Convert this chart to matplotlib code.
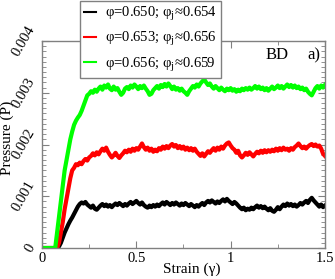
import numpy as np
import matplotlib
matplotlib.use("Agg")
import matplotlib.pyplot as plt
from matplotlib.ticker import MultipleLocator

# strain grid, 0.00 .. 1.50 in steps of 0.01
strain = np.round(np.arange(0, 151) * 0.01, 2)

# pressure values, in units of 1e-4
p_black = [
    0, 0, 0, 0, 0, 0, 0, 0, 0, 0.3,
    1, 2, 3, 3.8, 4.6, 5.3, 5.9, 6.6, 7.3, 8.0,
    8.5, 8.8, 8.6, 8.9, 8.4, 8.1, 7.8, 8.2, 7.6, 7.4,
    7.8, 8.2, 8.5, 8.1, 8.4, 8.0, 8.3, 7.9, 8.3, 8.6,
    8.3, 8.7, 8.4, 8.1, 8.5, 8.2, 8.6, 8.9, 8.5, 8.8,
    9.1, 8.7, 8.4, 8.8, 8.3, 8.0, 7.8, 8.2, 7.9, 8.3,
    8.0, 8.4, 8.1, 8.5, 8.8, 8.4, 8.9, 8.6, 8.3, 8.7,
    8.4, 8.8, 8.5, 8.2, 8.6, 8.3, 8.7, 8.4, 8.1, 8.5,
    8.2, 7.9, 8.3, 8.0, 8.4, 8.7, 8.3, 8.8, 9.1, 8.8,
    9.2, 8.9, 8.6, 9.0, 8.7, 9.1, 9.4, 9.0, 9.5, 9.1,
    8.8, 8.5, 8.9, 8.6, 8.2, 7.8, 7.5, 7.8, 7.3, 7.6,
    7.4, 7.8, 7.5, 7.9, 8.2, 7.8, 8.1, 7.7, 8.0, 7.6,
    7.3, 7.7, 7.2, 7.0, 7.4, 7.9, 7.5, 8.0, 8.4, 8.1,
    8.6, 8.2, 8.5, 8.1, 8.4, 8.0, 8.3, 8.7, 8.4, 8.8,
    9.1, 8.7, 9.3, 9.7, 9.2, 8.8, 8.4, 8.0, 8.4, 7.9,
    8.2,
]
p_red = [
    0, 0, 0, 0, 0, 0, 0, 0, 0, 1,
    3, 5, 7.5, 9.5, 11.5, 13.5, 15, 15.5, 16.2, 16,
    16.5, 16.2, 16.8, 17.2, 16.9, 17.5, 17.8, 18.3, 17.9, 18.5,
    18.1, 18.7, 19.2, 18.8, 19.4, 18.6, 18.0, 17.5, 17.9, 18.4,
    17.8, 17.4, 17.9, 18.3, 18.8, 18.5, 19.0, 18.6, 19.2, 18.8,
    19.3, 19.0, 19.6, 20.2, 19.5, 19.0, 19.4, 18.8, 19.2, 18.6,
    19.0, 18.7, 19.3, 19.0, 19.6, 19.2, 19.7, 19.3, 19.8, 20.1,
    19.6, 19.9, 19.3, 19.7, 19.2, 19.6, 19.0, 19.4, 18.9, 19.3,
    18.8, 19.2, 18.6, 18.2, 17.8, 18.3, 17.7, 18.2, 18.7, 18.4,
    18.9, 19.3, 18.8, 19.4, 19.0, 19.6, 19.2, 19.8, 20.2, 20.4,
    19.8, 19.3, 19.0, 18.4, 18.8, 17.9, 17.5, 17.9, 18.4, 18.0,
    18.5, 18.1, 17.7, 18.2, 18.6, 18.3, 18.8, 18.4, 18.9, 18.5,
    18.9, 18.6, 19.0, 18.7, 19.2, 18.8, 19.3, 18.9, 19.4, 19.0,
    19.2, 18.8, 19.3, 19.0, 19.5, 19.8, 20.2, 19.7, 19.3, 19.6,
    19.2, 19.6, 19.9, 20.1, 19.7, 20.0, 19.6, 19.8, 19.2, 18.2,
    17.8,
]
p_green = [
    0, 0, 0, 0, 0, 0, 0, 0, 3, 6,
    9, 12, 15, 17, 19, 21, 22.5, 23.8, 24.6, 25.2,
    25.7, 26.5, 27.5, 28.5, 29.5, 29.8, 30.3, 30, 30.6, 30.2,
    30.8, 31.2, 30.6, 31.4, 31, 31.6, 30.8, 30.5, 31.2, 30.6,
    30.9, 30.2, 29.6, 30.0, 30.8, 31.1, 30.7, 31.4, 31.0, 31.6,
    31.2, 30.7, 31.3, 30.9, 31.4, 30.8, 30.3, 29.6, 29.8, 30.5,
    30.9, 31.3, 30.8, 31.5, 31.1, 31.7, 31.2, 31.8, 31.3, 30.7,
    31.2, 30.6, 30.9, 30.4, 30.8, 30.3, 30.0, 29.6, 30.3, 30.8,
    31.3, 31.0, 31.6, 31.2, 31.8, 32.2, 32.6, 32.0, 31.5, 31.8,
    31.2, 30.8, 31.3, 30.9, 30.5, 31.0, 30.6, 30.3, 30.8, 30.5,
    30.9, 30.4, 30.7, 30.2, 30.6, 30.3, 30.8, 30.5, 30.9, 30.6,
    31.0, 30.6, 30.9, 31.3, 30.8, 31.2, 30.7, 31.0, 30.5, 30.9,
    30.4, 30.8, 31.2, 30.7, 31.0, 31.4, 30.9, 31.3, 30.8, 31.2,
    31.6, 31.1, 31.5, 31.0, 31.4, 30.9, 31.2, 30.7, 31.0, 30.5,
    30.8, 30.2, 29.8, 29.5, 30.2, 30.9, 31.3, 30.8, 31.4, 31.0,
    31.5,
]

labels = [
    r"φ=0.650; $\mathregular{φ_j}$≈0.654",
    r"φ=0.653; $\mathregular{φ_j}$≈0.656",
    r"φ=0.656; $\mathregular{φ_j}$≈0.659",
]
colors = ["black", "#ff0000", "#00ff00"]

plt.rcParams["font.family"] = ["Liberation Serif", "DejaVu Serif"]
plt.rcParams["mathtext.fontset"] = "stix"

fig = plt.figure(figsize=(3.35, 2.79), dpi=100)
ax = fig.add_axes([0.1254, 0.111, 0.8446, 0.742])

for p, c, lab in zip([p_black, p_red, p_green], colors, labels):
    ax.plot(strain, np.array(p) * 1e-4, color=c, lw=3.0, label=lab)

ax.set_xlim(0, 1.5)
ax.set_ylim(0, 0.004)
ax.xaxis.set_minor_locator(MultipleLocator(0.25))
ax.yaxis.set_minor_locator(MultipleLocator(0.0001))
ax.set_xticks([0, 0.5, 1, 1.5])
ax.set_xticklabels(["0", "0.5", "1", "1.5"])
ax.set_yticks([0, 0.001, 0.002, 0.003, 0.004])
ax.set_yticklabels(["0", "0.001", "0.002", "0.003", "0.004"],
                   rotation=60, ha="right", va="center")

for s in ax.spines.values():
    s.set_color("#808080")
    s.set_linewidth(1.0)
ax.tick_params(which="both", direction="in", top=True, right=True,
               color="#808080", labelsize=10.5, pad=3)
ax.tick_params(which="major", length=5)
ax.tick_params(which="minor", length=3)

ax.set_xlabel("Strain (γ)", fontsize=11)
ax.xaxis.set_label_coords(0.53, -0.07)
ax.set_ylabel("Pressure (P)", fontsize=11)
ax.yaxis.set_label_coords(-0.1, 0.53)

ax.text(0.832, 0.932, "BD", transform=ax.transAxes, fontsize=12,
        ha="center", va="center")
ax.text(0.96, 0.932, "a)", transform=ax.transAxes, fontsize=12,
        ha="center", va="center")

leg = fig.legend(loc="upper left", bbox_to_anchor=(0.239, 0.998),
                 bbox_transform=fig.transFigure, fontsize=10.5,
                 handlelength=0.8, handletextpad=0.6, labelspacing=0.5,
                 borderpad=0.3, borderaxespad=0, fancybox=False,
                 framealpha=1)
leg.get_frame().set_edgecolor("#808080")
leg.get_frame().set_linewidth(1.0)
for h in leg.get_lines():
    h.set_linewidth(1.5)

fig.savefig("out.png", dpi=100)
